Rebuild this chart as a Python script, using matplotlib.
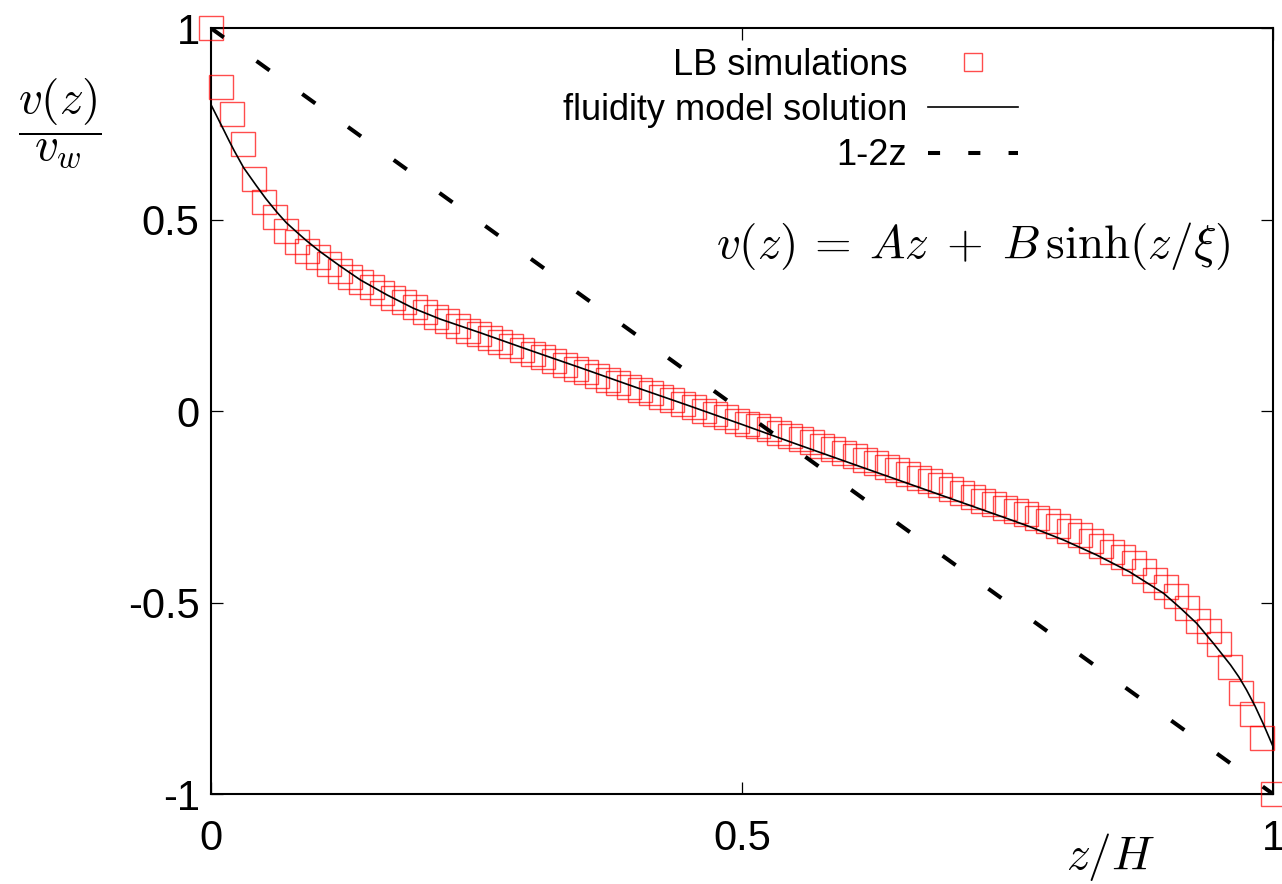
import numpy as np
import matplotlib
matplotlib.use('Agg')
import matplotlib.pyplot as plt

plt.rcParams['font.family'] = ['Liberation Sans', 'DejaVu Sans']
plt.rcParams['mathtext.fontset'] = 'cm'

# ---- data ----
z_lb = np.linspace(0.0, 1.0, 100)
v_lb = [1.000, 0.845, 0.775, 0.696, 0.607, 0.546, 0.507, 0.471, 0.440, 0.418,
        0.402, 0.384, 0.366, 0.349, 0.336, 0.323, 0.309, 0.296, 0.284, 0.271,
        0.258, 0.245, 0.234, 0.222, 0.210, 0.200, 0.190, 0.180, 0.170, 0.160,
        0.150, 0.140, 0.130, 0.120, 0.110, 0.101, 0.092, 0.082, 0.073, 0.064,
        0.055, 0.046, 0.037, 0.028, 0.019, 0.010, 0.001, -0.008, -0.016, -0.025,
        -0.033, -0.040, -0.048, -0.057, -0.065, -0.073, -0.082, -0.091, -0.100, -0.109,
        -0.118, -0.127, -0.136, -0.146, -0.155, -0.164, -0.174, -0.184, -0.194, -0.204,
        -0.214, -0.224, -0.234, -0.243, -0.252, -0.261, -0.270, -0.279, -0.288, -0.301,
        -0.314, -0.325, -0.339, -0.353, -0.369, -0.381, -0.397, -0.419, -0.442, -0.460,
        -0.484, -0.514, -0.547, -0.574, -0.608, -0.668, -0.736, -0.791, -0.854, -1.000]

z_fit = [0.000, 0.006, 0.012, 0.017, 0.022, 0.031, 0.043, 0.052, 0.062, 0.071,
         0.081, 0.090, 0.103, 0.122, 0.141, 0.166, 0.191, 0.216, 0.254, 0.300,
         0.350, 0.400, 0.450, 0.500, 0.550, 0.600, 0.650, 0.700, 0.750, 0.771,
         0.803, 0.834, 0.865, 0.897, 0.913, 0.928, 0.944, 0.960, 0.968, 0.975,
         0.983, 0.991, 1.000]
v_fit = [0.801, 0.768, 0.735, 0.707, 0.680, 0.635, 0.588, 0.554, 0.520, 0.492,
         0.467, 0.445, 0.416, 0.378, 0.342, 0.303, 0.268, 0.240, 0.204, 0.159,
         0.111, 0.062, 0.014, -0.035, -0.085, -0.134, -0.183, -0.232, -0.281, -0.302,
         -0.337, -0.376, -0.420, -0.476, -0.515, -0.554, -0.607, -0.663, -0.695, -0.728,
         -0.770, -0.818, -0.876]

z_lin = [0.0, 1.0]
v_lin = [1.0, -1.0]

xticks = [0, 0.5, 1]
xtick_labels = ['0', '0.5', '1']
yticks = [-1, -0.5, 0, 0.5, 1]
ytick_labels = ['-1', '-0.5', '0', '0.5', '1']

fig = plt.figure(figsize=(12.82, 8.84), dpi=100)
ax = fig.add_axes([0.1644, 0.1018, 0.8286, 0.8665])

ax.plot(z_lb, v_lb, ls='none', marker='s', ms=16.8, mfc='none',
        mec=(1, 0, 0, 0.7), mew=1.0, label='LB simulations', clip_on=False, zorder=3)
ax.plot(z_fit, v_fit, color='black', lw=1.2, label='fluidity model solution', zorder=4)
ax.plot(z_lin, v_lin, color='black', lw=2.9, dashes=[4, 10], dash_capstyle='butt',
        label='1-2z', zorder=4)

ax.set_xlim(0, 1)
ax.set_ylim(-1, 1)
ax.set_xticks(xticks)
ax.set_xticklabels(xtick_labels)
ax.set_yticks(yticks)
ax.set_yticklabels(ytick_labels)
ax.tick_params(direction='in', length=8.6, width=0.9, top=True, right=True,
               labelsize=30, pad=8)
ax.tick_params(axis='x', pad=18)
for s in ax.spines.values():
    s.set_linewidth(1.5)

leg = ax.legend(loc='upper right', bbox_to_anchor=(1018 / 1282, 1 - 48 / 884),
                bbox_transform=fig.transFigure, frameon=False, markerfirst=False,
                prop={'size': 26}, handlelength=2.49,
                handletextpad=0.58, labelspacing=0.28, borderpad=0, borderaxespad=0)
hs = leg.legend_handles
hs[0].set_markersize(13)
hs[2].set_dashes([3, 7])

fig.text(60 / 1282, 1 - 124 / 884, r'$\dfrac{v(z)}{v_w}$', fontsize=34,
         ha='center', va='center')
fig.text(1230 / 1282, 1 - 246 / 884, r'$v(z)\:=\:Az\;+\;B\,\sinh(z/\xi)$', fontsize=34,
         ha='right', va='center')
fig.text(1111 / 1282, 1 - 857 / 884, r'$z/H$', fontsize=34, ha='center', va='center')

fig.savefig('out.png', dpi=100)
